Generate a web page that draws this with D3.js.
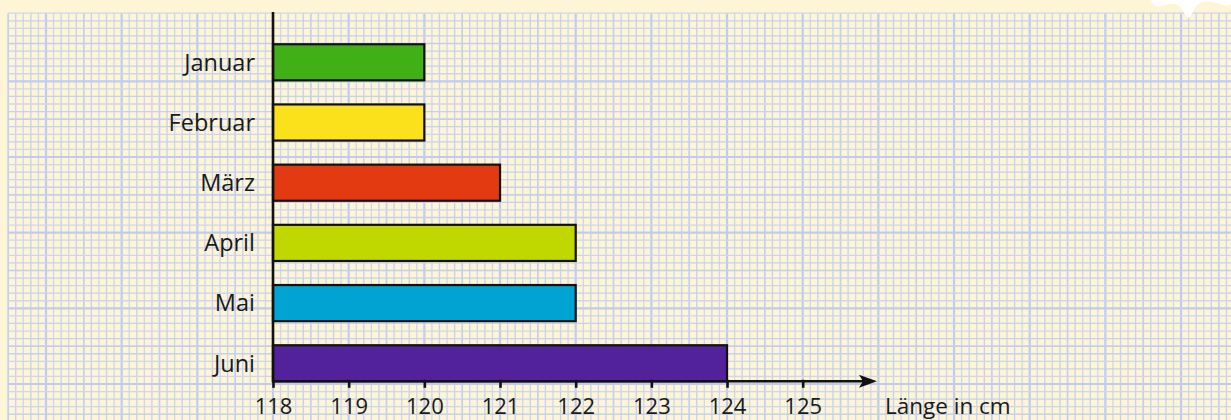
<html>

<head>
  <meta charset="utf-8">
  <title>Länge in cm</title>
</head>
<style>
  body { margin: 0; background: #fdf5d6; }
  svg { display: block; }
</style>

<body>
  <div id="chart"></div>
</body>
<script src="https://cdn.jsdelivr.net/npm/d3@7"></script>
<script>

  const months = ["Januar", "Februar", "März", "April", "Mai", "Juni"]
  const lengths = [120, 120, 121, 122, 122, 124]
  const barColors = ["#41b017", "#fbe11b", "#e43a12", "#c0d700", "#00a3d2", "#52229a"]
  const tickValues = [118, 119, 120, 121, 122, 123, 124, 125]
  const axisTitle = "Länge in cm"

  let width = 1231
  let height = 420

  let x = d3.scaleLinear()
    .domain([118, 125])
    .range([273, 802.7])

  let y = d3.scaleBand()
    .domain(months)
    .range([32.2, 393.4])
    .paddingInner(0.4)
    .paddingOuter(0.2)

  let svg = d3.select("#chart")
    .append("svg")
    .attr("width", width)
    .attr("height", height)

  svg.append("rect")
    .attr("width", width)
    .attr("height", height)
    .attr("fill", "#fdf5d6")

  // kariertes Papier
  const cell = x(118.1) - x(118)
  const gridTop = 13.2
  const gridLeft = 8
  const baseY = 384
  let grid = svg.append("g")

  const lineColor = k => k % 10 == 0 ? "#bfcbf0" : (k % 5 == 0 ? "#c4cff0" : (k % 2 ? "#cfd6ec" : "#c6d0f0"))
  const lineWidth = k => k % 10 == 0 ? 2.2 : (k % 5 == 0 ? 1.7 : 1.3)

  d3.range(-35, 127).forEach(k => {
    const gx = x(118) + k * cell
    if (gx < gridLeft - 0.5 || gx > width + 1) return
    grid.append("line")
      .attr("x1", gx).attr("x2", gx)
      .attr("y1", gridTop).attr("y2", height)
      .attr("stroke", lineColor(k))
      .attr("stroke-width", lineWidth(k))
  })
  d3.range(-6, 50).forEach(k => {
    const gy = baseY - k * cell
    if (gy < gridTop - 0.5 || gy > height + 1) return
    grid.append("line")
      .attr("x1", gridLeft).attr("x2", width)
      .attr("y1", gy).attr("y2", gy)
      .attr("stroke", lineColor(k))
      .attr("stroke-width", lineWidth(k))
  })

  // Papierriss oben rechts
  svg.append("path")
    .attr("d", "M1151,0 C1152,5 1156,8 1162,6 C1170,3 1178,3 1182,9 C1185,14 1186,18 1188,18 C1191,18 1193,10 1197,5 C1202,0 1212,1 1220,4 C1225,6 1229,6 1231,4 L1231,0 Z")
    .attr("fill", "#ffffff")

  // Balken
  svg.append("g")
    .selectAll("rect")
    .data(months)
    .enter().append("rect")
    .attr("x", x(118))
    .attr("y", d => y(d))
    .attr("width", (d, i) => x(lengths[i]) - x(118))
    .attr("height", y.bandwidth())
    .attr("fill", (d, i) => barColors[i])
    .attr("stroke", "#111")
    .attr("stroke-width", 2.2)

  // Monatsnamen
  svg.append("g")
    .selectAll("text")
    .data(months)
    .enter().append("text")
    .attr("x", 255)
    .attr("y", d => y(d) + y.bandwidth() / 2)
    .attr("dy", "0.35em")
    .attr("text-anchor", "end")
    .attr("font-family", "Open Sans")
    .attr("font-size", 23.5)
    .attr("fill", "#1a1a1a")
    .text(d => d)

  // Achsen
  const axisY = 381.3
  const labelY = 32.5
  svg.append("line")
    .attr("x1", x(118)).attr("x2", x(118))
    .attr("y1", 12).attr("y2", axisY + 1)
    .attr("stroke", "#111")
    .attr("stroke-width", 2.6)

  let xAxis = svg.append("g")
    .attr("transform", `translate(0,${axisY})`)
    .call(d3.axisBottom(x).tickValues(tickValues).tickSize(6.5).tickSizeOuter(0).tickFormat(d3.format("d")))

  xAxis.select(".domain").remove()
  xAxis.selectAll(".tick line")
    .attr("y1", -1.5)
    .attr("stroke", "#111")
    .attr("stroke-width", 2.6)
  xAxis.selectAll(".tick text")
    .attr("y", labelY)
    .attr("dy", 0)
    .attr("font-family", "Open Sans")
    .attr("font-size", 22)
    .attr("fill", "#1a1a1a")

  svg.append("line")
    .attr("x1", x(118)).attr("x2", 864)
    .attr("y1", axisY).attr("y2", axisY)
    .attr("stroke", "#111")
    .attr("stroke-width", 2.6)

  svg.append("path")
    .attr("d", `M877,${axisY} L859,${axisY - 6.5} L863,${axisY} L859,${axisY + 6.5} Z`)
    .attr("fill", "#111")

  svg.append("text")
    .attr("x", 885)
    .attr("y", axisY + labelY)
    .attr("font-family", "Open Sans")
    .attr("font-size", 22.5)
    .attr("fill", "#1a1a1a")
    .text(axisTitle)

</script>

</html>
